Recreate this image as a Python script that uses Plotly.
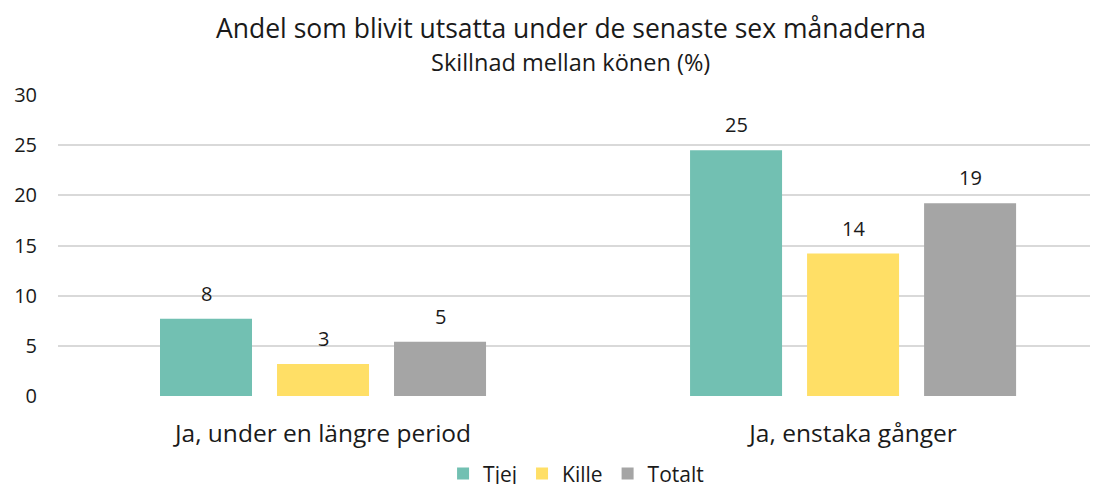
import plotly.graph_objects as go

categories = ["Ja, under en längre period", "Ja, enstaka gånger"]
series_names = ["Tjej", "Kille", "Totalt"]
tjej = [7.7, 24.5]
kille = [3.2, 14.2]
totalt = [5.4, 19.2]
labels_tjej = ["8", "25"]
labels_kille = ["3", "14"]
labels_totalt = ["5", "19"]
y_ticks = [0, 5, 10, 15, 20, 25, 30]
title_text = "Andel som blivit utsatta under de senaste sex månaderna"
subtitle_text = "Skillnad mellan könen (%)"

colors = ["#72C0B2", "#FFDF66", "#A5A5A5"]
FONT = "Open Sans, Noto Sans, sans-serif"
TXT = "#1a1a1a"

fig = go.Figure()
all_vals = [tjej, kille, totalt]
all_labels = [labels_tjej, labels_kille, labels_totalt]
for name, vals, col in zip(series_names, all_vals, colors):
    fig.add_trace(go.Bar(x=categories, y=vals, name=name, marker=dict(color=col, line=dict(width=0))))

bargap = 0.3377
slot = (1 - bargap) / 3
offsets = [-slot, 0, slot]
for vals, labs, off in zip(all_vals, all_labels, offsets):
    for i, (v, t) in enumerate(zip(vals, labs)):
        fig.add_annotation(x=i + off, y=v, text=t, showarrow=False, xref="x", yref="y",
                           yanchor="bottom", yshift=10,
                           font=dict(family=FONT, size=20, color=TXT))

fig.add_annotation(text=title_text, xref="paper", yref="paper", x=0.497, y=1.2226,
                   xanchor="center", yanchor="middle", showarrow=False,
                   font=dict(family=FONT, size=26.5, color=TXT))
fig.add_annotation(text=subtitle_text, xref="paper", yref="paper", x=0.497, y=1.1096,
                   xanchor="center", yanchor="middle", showarrow=False,
                   font=dict(family=FONT, size=23.5, color=TXT))

# page body has an 8px margin, so the figure is sized to fit the 1106x484 window
fig.update_layout(
    width=1098, height=476,
    margin=dict(l=50, r=16, t=87, b=88, autoexpand=False),
    paper_bgcolor="white", plot_bgcolor="white",
    barmode="group", bargap=bargap, bargroupgap=0.2137,
    font=dict(family=FONT, color=TXT),
    legend=dict(orientation="h", x=0.502, xanchor="center", y=-0.259, yanchor="middle",
                font=dict(family=FONT, size=21, color=TXT), itemwidth=30,
                traceorder="normal"),
    showlegend=True,
)
fig.update_xaxes(type="category", range=[-0.5, 1.447], showgrid=False, showline=False,
                 ticks="", tickfont=dict(family=FONT, size=24.5, color=TXT),
                 ticklabelstandoff=20)
fig.update_yaxes(range=[0, 30], tickvals=y_ticks, showgrid=True, gridcolor="#D9D9D9", gridwidth=2,
                 zeroline=False, showline=False, ticks="",
                 tickfont=dict(family=FONT, size=20, color=TXT), ticklabelstandoff=20)

fig.write_html("out.html")
